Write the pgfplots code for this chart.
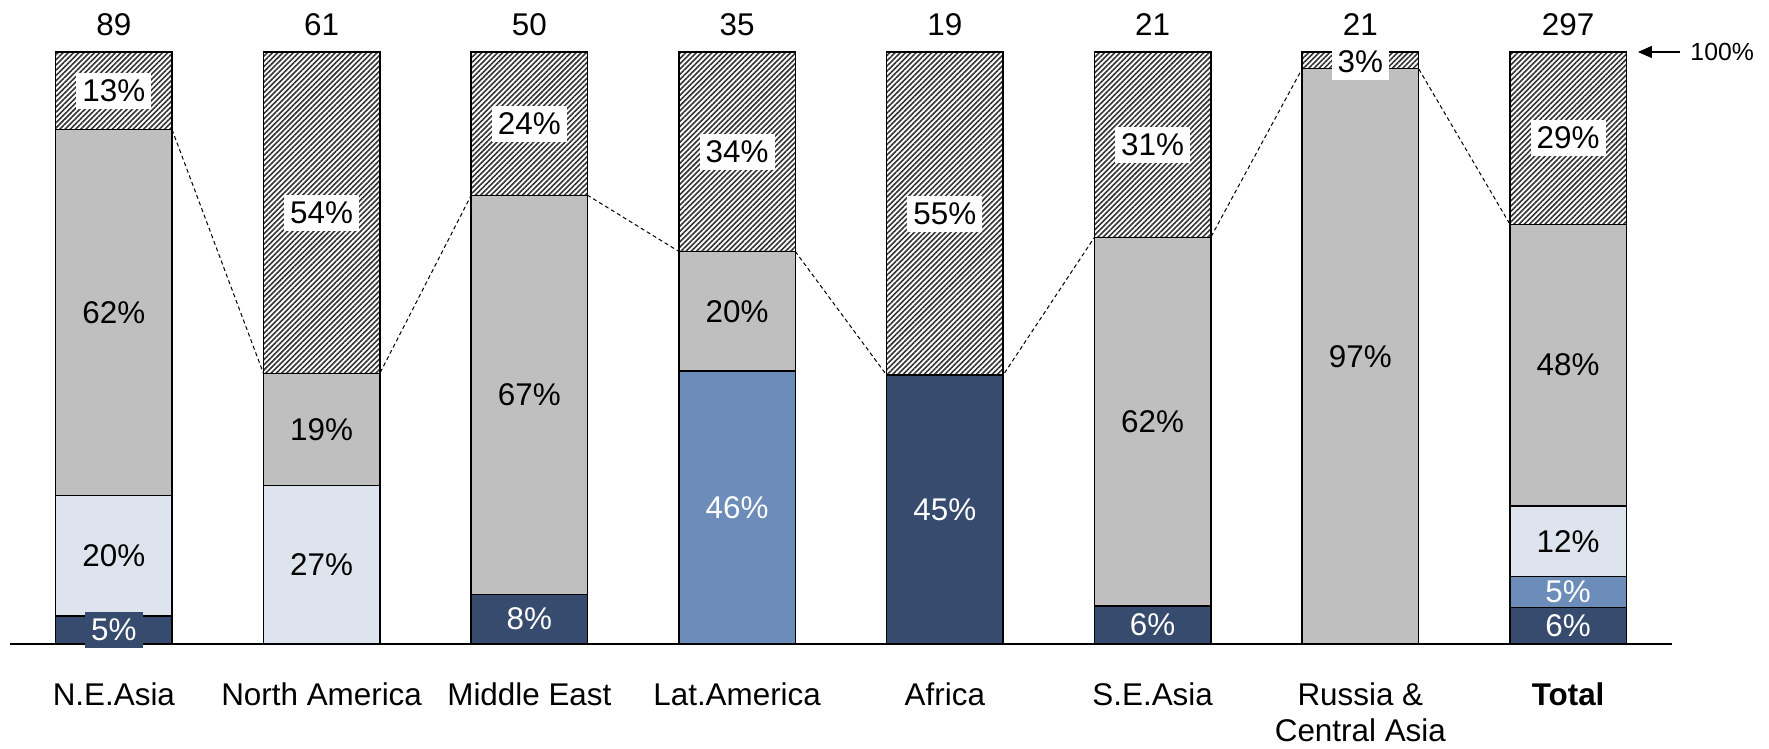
\documentclass[border=0pt]{standalone}
\usepackage{fontspec}
\setmainfont{Liberation Sans}
\usepackage{pgfplots}
\usepackage{pgfplotstable}
\pgfplotsset{compat=1.18}
\usetikzlibrary{patterns.meta,arrows.meta}

\definecolor{navy}{HTML}{374B6E}
\definecolor{midblue}{HTML}{6C8CB9}
\definecolor{paleblue}{HTML}{DEE4EE}
\definecolor{midgray}{HTML}{BFBFBF}
\definecolor{hatchink}{HTML}{333333}

% shares per region, bottom segment first (percent)
\pgfplotstableread{
x navy blue light gray hatch
0 4.7  0    20.4 61.8 13.1
1 0    0    26.8 18.9 54.3
2 8.4  0    0    67.4 24.2
3 0    46.1 0    20.2 33.7
4 45.4 0    0    0    54.6
5 6.4  0    0    62.3 31.3
6 0    0    0    97.2 2.8
7 6.2  5.2  11.9 47.6 29.1
}\shares

\pgfplotsset{frame/.style={scale only axis, width=831pt, height=296pt,
  xmin=-0.5, xmax=7.5, ymin=0, ymax=100, clip=false}}

\newcommand{\fnt}{\fontsize{15.7}{19}\selectfont}
\newcommand{\lbl}[3][]{\node[font=\fnt,#1] at (axis cs:#2) {#3};}
\newcommand{\hlbl}[2]{\node[font=\fnt,fill=white,inner xsep=3pt,inner ysep=3.5pt] at (axis cs:#1) {#2};}
\newcommand{\tot}[2]{\node[font=\fnt, yshift=13.5pt] at (axis cs:#1,100) {#2};}

\begin{document}
\begin{tikzpicture}[font=\fnt]
\useasboundingbox (-5pt,-52.5pt) rectangle (879.5pt,322pt);
\begin{axis}[
  frame,
  ybar stacked, bar width=0.56,
  axis x line*=bottom, axis y line=none,
  x axis line style={-, line width=0.8pt},
  xtick=data, xtick style={draw=none},
  xticklabels={N.E.Asia, North America, Middle East, Lat.America, Africa, S.E.Asia, {Russia \&\\Central Asia}, \textbf{Total}},
  xticklabel style={align=center, yshift=-18pt, inner sep=1pt, font=\fontsize{15.7}{18.3}\selectfont},
  every axis plot/.append style={draw=black, line width=0.75pt},
]
\addplot[fill=navy] table[x=x, y=navy] {\shares};
\addplot[fill=midblue] table[x=x, y=blue] {\shares};
\addplot[fill=paleblue] table[x=x, y=light] {\shares};
\addplot[fill=midgray] table[x=x, y=gray] {\shares};
\addplot[fill=white, pattern={Lines[angle=45,distance=1.85pt,line width=0.8pt]}, pattern color=hatchink] table[x=x, y=hatch] {\shares};

% dashed link between tops of the grey segments
\addplot[sharp plot, stack plots=false, draw=black, line width=0.5pt, dash pattern=on 2pt off 1.5pt, mark=none, forget plot]
  coordinates {(0.28,86.9) (0.72,45.7) (1.28,45.7) (1.72,75.8) (2.28,75.8) (2.72,66.3) (3.28,66.3) (3.72,45.4)
               (4.28,45.4) (4.72,68.7) (5.28,68.7) (5.72,97.2) (6.28,97.2) (6.72,70.9)};
\end{axis}

% labels, drawn over the bars on the same axis frame
\begin{axis}[frame, hide axis]
\lbl[text=white,fill=navy,inner xsep=3pt,inner ysep=3.5pt]{0,2.35}{5\%}
\lbl{0,14.9}{20\%}
\lbl{0,56.0}{62\%}
\hlbl{0,93.45}{13\%}

\lbl{1,13.4}{27\%}
\lbl{1,36.25}{19\%}
\hlbl{1,72.85}{54\%}

\lbl[text=white]{2,4.2}{8\%}
\lbl{2,42.1}{67\%}
\hlbl{2,87.9}{24\%}

\lbl[text=white]{3,23.05}{46\%}
\lbl{3,56.2}{20\%}
\hlbl{3,83.15}{34\%}

\lbl[text=white]{4,22.7}{45\%}
\hlbl{4,72.7}{55\%}

\lbl[text=white]{5,3.2}{6\%}
\lbl{5,37.55}{62\%}
\hlbl{5,84.35}{31\%}

\lbl{6,48.6}{97\%}
\hlbl{6,98.4}{3\%}

\lbl[text=white]{7,3.1}{6\%}
\lbl[text=white]{7,8.8}{5\%}
\lbl{7,17.35}{12\%}
\lbl{7,47.1}{48\%}
\hlbl{7,85.45}{29\%}

% totals above the bars
\tot{0}{89}
\tot{1}{61}
\tot{2}{50}
\tot{3}{35}
\tot{4}{19}
\tot{5}{21}
\tot{6}{21}
\tot{7}{297}

% 100% marker
\draw[line width=0.6pt, -{Triangle[length=7pt,width=6pt]}] (axis cs:7.539,100) -- (axis cs:7.336,100);
\node[anchor=west, font=\fontsize{12.4}{14}\selectfont, inner sep=0pt] at (axis cs:7.587,100) {100\%};
\end{axis}
\end{tikzpicture}
\end{document}
